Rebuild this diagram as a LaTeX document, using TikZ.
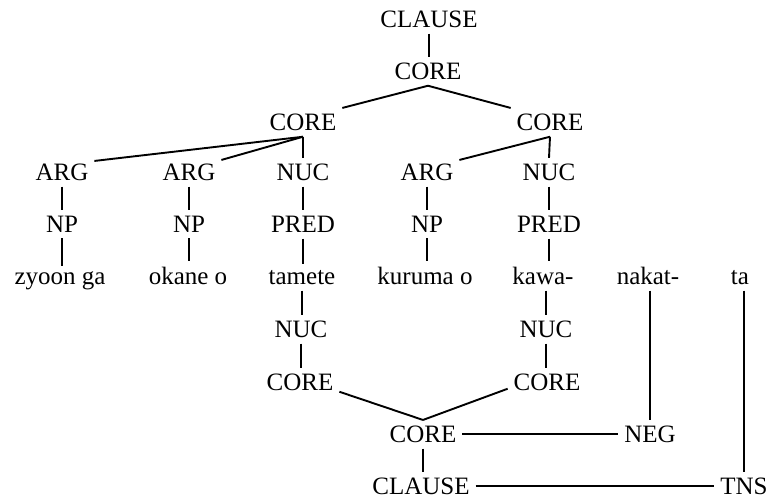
\documentclass[tikz,border=0pt]{standalone}
\usepackage{fontspec}
\setmainfont{Liberation Serif}
\begin{document}
\begin{tikzpicture}[x=1pt,y=-1pt,
  lab/.style={inner sep=0pt, outer sep=6pt, anchor=base, font=\fontsize{25}{30}\selectfont},
  ln/.style={line width=1.9pt},
  thinln/.style={line width=1.3pt}]
\useasboundingbox (0,2.5) rectangle (769,502.5);
% nodes
\node[lab] (clT) at (429,30) {CLAUSE};
\node[lab] (coreT) at (428,82) {CORE};
\node[lab] (coreL) at (303,133) {CORE};
\node[lab] (coreR) at (550,133) {CORE};
\node[lab] (argA) at (62,183) {ARG};
\node[lab] (argB) at (189,183) {ARG};
\node[lab] (nucA) at (303,183) {NUC};
\node[lab] (argC) at (427,183) {ARG};
\node[lab] (nucB) at (549,183) {NUC};
\node[lab] (npA) at (62,235) {NP};
\node[lab] (npB) at (189,235) {NP};
\node[lab] (predA) at (303,235) {PRED};
\node[lab] (npC) at (427,235) {NP};
\node[lab] (predB) at (549,235) {PRED};
\node[lab] (wA) at (60,287) {zyoon ga};
\node[lab] (wB) at (188,287) {okane o};
\node[lab] (wC) at (302,287) {tamete};
\node[lab] (wD) at (425,287) {kuruma o};
\node[lab] (wE) at (543,287) {kawa-};
\node[lab] (wF) at (648,287) {nakat-};
\node[lab] (wG) at (740,287) {ta};
\node[lab] (nucC) at (301,340) {NUC};
\node[lab] (nucD) at (546,340) {NUC};
\node[lab] (coreC) at (300,393) {CORE};
\node[lab] (coreD) at (547,393) {CORE};
\node[lab] (coreB) at (423,445) {CORE};
\node[lab] (neg) at (650,445) {NEG};
\node[lab] (clB) at (421,497) {CLAUSE};
\node[lab] (tns) at (744,497) {TNS};
% connectors
\draw[ln] (clT.south) -- (clT.south |- coreT.north);
\draw[ln] (coreT.south) -- (coreL.north east);
\draw[ln] (coreT.south) -- (coreR.north west);
\draw[ln] (coreL.south) -- ([yshift=-3pt]argA.north east);
\draw[ln] (coreL.south) -- ([yshift=-2pt]argB.north east);
\draw[ln] (coreL.south) -- (nucA.north);
\draw[ln] (coreR.south) -- ([yshift=-2pt]argC.north east);
\draw[ln] (coreR.south) -- (nucB.north);
\draw[ln] (argA.south) -- (npA.north);
\draw[ln] (argB.south) -- (npB.north);
\draw[ln] (nucA.south) -- (predA.north);
\draw[ln] (argC.south) -- (npC.north);
\draw[ln] (nucB.south) -- (predB.north);
\draw[ln] (npA.south) -- (npA.south |- wA.north);
\draw[ln] (npB.south) -- (npB.south |- wB.north);
\draw[ln] (predA.south) -- (predA.south |- wC.north);
\draw[ln] (npC.south) -- (npC.south |- wD.north);
\draw[ln] (predB.south) -- (predB.south |- wE.north);
\draw[ln] (wC.south) -- (wC.south |- nucC.north);
\draw[ln] (nucC.south) -- (nucC.south |- coreC.north);
\draw[ln] (wE.south -| nucD.north) -- (nucD.north);
\draw[ln] (nucD.south) -- (nucD.south |- coreD.north);
\draw[ln] ([yshift=5pt]coreC.south east) -- (coreB.north);
\draw[ln] (coreB.north) -- ([yshift=8pt]coreD.south west);
\draw[ln] (coreB.east) -- (neg.west);
\draw[ln] (coreB.south) -- (coreB.south |- clB.north);
\draw[ln] (clB.east) -- (tns.west);
\draw[thinln] (wF.south -| neg.north) -- (neg.north);
\draw[thinln] (wG.south -| tns.north) -- (tns.north);
\end{tikzpicture}
\end{document}
